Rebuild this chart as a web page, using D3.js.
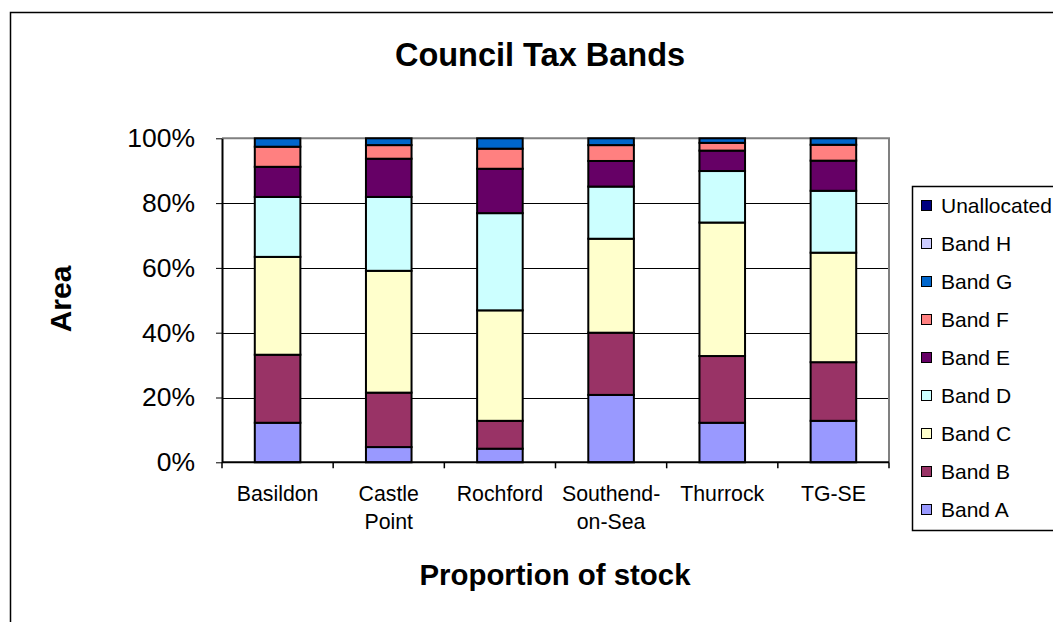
<!DOCTYPE html>
<meta charset="utf-8">
<style>
body { margin: 0; background: #fff; }
svg { font-family: "Liberation Sans", Arial, sans-serif; }
.grid line { stroke: #000; stroke-width: 1px; }
.axis path, .axis line { stroke: #000; }
</style>
<body>
<script src="https://d3js.org/d3.v7.min.js"></script>
<script>
// categories and the band series (bottom to top), values in %
var areas = ["Basildon", "Castle Point", "Rochford", "Southend-on-Sea", "Thurrock", "TG-SE"];
var areaLines = [["Basildon"], ["Castle", "Point"], ["Rochford"], ["Southend-", "on-Sea"], ["Thurrock"], ["TG-SE"]];
var bands = ["Band A", "Band B", "Band C", "Band D", "Band E", "Band F", "Band G", "Band H", "Unallocated"];
var bandColors = ["#9999FF", "#993366", "#FFFFCC", "#CCFFFF", "#660066", "#FF8080", "#0066CC", "#CCCCFF", "#000080"];

var bandA = [12.2, 4.7, 4.2, 20.8, 12.2, 12.8];
var bandB = [21.0, 16.8, 8.6, 19.2, 20.6, 18.1];
var bandC = [30.2, 37.6, 34.1, 29.0, 41.2, 33.8];
var bandD = [18.5, 22.8, 30.0, 16.1, 15.9, 19.1];
var bandE = [9.3, 11.8, 13.7, 7.9, 6.3, 9.3];
var bandF = [6.2, 4.2, 6.2, 4.9, 2.4, 4.9];
var bandG = [2.6, 2.1, 3.2, 2.1, 1.4, 2.0];
var bandH = [0, 0, 0, 0, 0, 0];
var unalloc = [0, 0, 0, 0, 0, 0];
var yTicks = [0, 20, 40, 60, 80, 100];

var series = [bandA, bandB, bandC, bandD, bandE, bandF, bandG, bandH, unalloc];

var width = 1053, height = 622;
var plot = {left: 222, right: 889, top: 138.3, bottom: 462.3};

var svg = d3.select("body").append("svg")
    .attr("width", width)
    .attr("height", height);

// outer chart border (runs off the picture on right and bottom)
svg.append("rect")
    .attr("x", 10.5).attr("y", 12.5)
    .attr("width", 1100).attr("height", 700)
    .attr("fill", "none").attr("stroke", "#000").attr("stroke-width", 1.5);

var rows = areas.map(function(a, i) {
  var r = {area: a};
  bands.forEach(function(b, j) { r[b] = series[j][i]; });
  return r;
});

var stack = d3.stack().keys(bands).offset(d3.stackOffsetExpand);
var stacked = stack(rows);

var x = d3.scaleBand().domain(areas).range([plot.left, plot.right]).paddingInner(0).paddingOuter(0);
var y = d3.scaleLinear().domain([0, 1]).range([plot.bottom, plot.top]);
var color = d3.scaleOrdinal().domain(bands).range(bandColors);

// gridlines
svg.append("g").attr("class", "grid")
  .selectAll("line")
  .data(yTicks.slice(1, -1))
  .enter().append("line")
    .attr("x1", plot.left).attr("x2", plot.right)
    .attr("y1", function(d) { return Math.round(y(d / 100)) + 0.5; })
    .attr("y2", function(d) { return Math.round(y(d / 100)) + 0.5; });

// top/right plot border in grey
svg.append("path")
    .attr("d", "M" + plot.left + "," + plot.top + "H" + plot.right + "V" + plot.bottom)
    .attr("fill", "none").attr("stroke", "#808080").attr("stroke-width", 2);

// bars
var barW = x.bandwidth() * 0.41;
svg.append("g").selectAll("g")
  .data(stacked)
  .enter().append("g")
    .attr("fill", function(d) { return color(d.key); })
  .selectAll("rect")
  .data(function(d) { return d.filter(function(p) { return p[1] - p[0] > 0; }); })
  .enter().append("rect")
    .attr("x", function(d) { return x(d.data.area) + (x.bandwidth() - barW) / 2; })
    .attr("y", function(d) { return y(d[1]); })
    .attr("width", barW)
    .attr("height", function(d) { return y(d[0]) - y(d[1]); })
    .attr("stroke", "#000")
    .attr("stroke-width", 2);

// y axis
var yAxis = svg.append("g").attr("class", "axis")
    .attr("transform", "translate(" + plot.left + ",0)")
    .call(d3.axisLeft(y).tickValues(yTicks.map(function(d) { return d / 100; }))
      .tickFormat(function(d) { return Math.round(d * 100) + "%"; })
      .tickSize(6).tickSizeOuter(0).tickPadding(21));
yAxis.select(".domain").attr("stroke-width", 2);
yAxis.selectAll("text").attr("font-size", 26.5).attr("fill", "#000").attr("font-family", "Liberation Sans, Arial");

// x axis, ticks at category boundaries
var xg = svg.append("g").attr("class", "axis")
    .attr("transform", "translate(0," + plot.bottom + ")");
xg.append("line").attr("x1", plot.left).attr("x2", plot.right).attr("stroke-width", 2);
xg.selectAll(".tk")
  .data(areas.concat(["end"]))
  .enter().append("line").attr("class", "tk")
    .attr("x1", function(d, i) { return i < areas.length ? x(d) : plot.right; })
    .attr("x2", function(d, i) { return i < areas.length ? x(d) : plot.right; })
    .attr("y1", 0).attr("y2", 6).attr("stroke-width", 1.5);

var catLabels = xg.selectAll(".cat")
  .data(areaLines)
  .enter().append("text").attr("class", "cat")
    .attr("text-anchor", "middle")
    .attr("font-size", 21.3)
    .attr("fill", "#000");
catLabels.each(function(lines, i) {
  var t = d3.select(this);
  lines.forEach(function(l, k) {
    t.append("tspan")
      .attr("x", x(areas[i]) + x.bandwidth() / 2)
      .attr("y", 39 + k * 28)
      .text(l);
  });
});

// titles
svg.append("text")
    .attr("x", 540).attr("y", 66)
    .attr("text-anchor", "middle")
    .attr("font-size", 32.5).attr("font-weight", "bold")
    .text("Council Tax Bands");

svg.append("text")
    .attr("x", 555).attr("y", 585)
    .attr("text-anchor", "middle")
    .attr("font-size", 29.4).attr("font-weight", "bold")
    .text("Proportion of stock");

svg.append("text")
    .attr("transform", "translate(71,299) rotate(-90)")
    .attr("text-anchor", "middle")
    .attr("font-size", 30).attr("font-weight", "bold")
    .text("Area");

// legend, top entry is the last band
var legend = svg.append("g");
legend.append("rect")
    .attr("x", 912.5).attr("y", 186.5)
    .attr("width", 200).attr("height", 344)
    .attr("fill", "#fff").attr("stroke", "#000").attr("stroke-width", 1.5);

var items = legend.selectAll(".item")
  .data(bands.slice().reverse())
  .enter().append("g").attr("class", "item")
    .attr("transform", function(d, i) { return "translate(921," + (205 + i * 38) + ")"; });
items.append("rect")
    .attr("x", 0.5).attr("y", -4.5)
    .attr("width", 10).attr("height", 10)
    .attr("fill", function(d) { return color(d); })
    .attr("stroke", "#000").attr("stroke-width", 1);
items.append("text")
    .attr("x", 20).attr("y", 7.5)
    .attr("font-size", 21)
    .text(function(d) { return d; });
</script>
</body>
